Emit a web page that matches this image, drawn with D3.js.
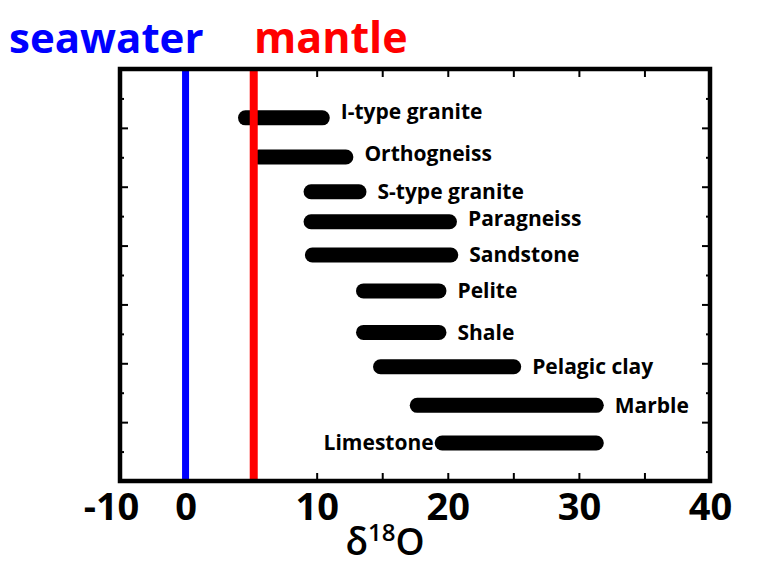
<!DOCTYPE html>
<html>
<head>
<meta charset="utf-8">
<script src="https://cdn.jsdelivr.net/npm/d3@7"></script>
<style>
  body { margin: 0; background: #fff; }
  text { font-family: "Open Sans", "Noto Sans", sans-serif; }
</style>
</head>
<body>
<script>
// rock types, top to bottom
var rocks = ["I-type granite", "Orthogneiss", "S-type granite", "Paragneiss", "Sandstone",
             "Pelite", "Shale", "Pelagic clay", "Marble", "Limestone"];
// d18O range of each rock type
var lows  = [4.0, 5.0, 9.0, 9.0, 9.1, 13.0, 13.0, 14.3, 17.1, 19.0];
var highs = [11.0, 12.8, 13.8, 20.7, 20.8, 19.9, 19.9, 25.6, 31.9, 31.9];
// vertical slot of each bar (axis runs 0..14)
var rows  = [12.34, 11.01, 9.83, 8.81, 7.68, 6.46, 5.05, 3.88, 2.57, 1.29];

var seawater = 0;
var mantle = 5.2;

var xTickValues = [-5, 0, 10, 20, 30, 40];
var xTickLabels = ["-10", "0", "10", "20", "30", "40"];

var svg = d3.select("body").append("svg")
    .attr("width", 768)
    .attr("height", 575);

var margin = {top: 69, right: 58, bottom: 94, left: 120};
var width = 768 - margin.left - margin.right;
var height = 575 - margin.top - margin.bottom;

var x = d3.scaleLinear().domain([-5, 40]).range([0, width]);
var y = d3.scaleLinear().domain([0, 14]).range([height, 0]);

var g = svg.append("g")
    .attr("transform", "translate(" + margin.left + "," + margin.top + ")");

// tick marks, all pointing inwards
var minorX = d3.range(5, 40, 5);
var yTicks = d3.range(1, 14);

function styleAxis(a) {
    a.select(".domain").remove();
    a.selectAll(".tick line").attr("stroke", "#000").attr("stroke-width", 2);
}

g.append("g").attr("transform", "translate(0," + height + ")")
    .call(d3.axisTop(x).tickValues(minorX).tickSize(8).tickFormat(""))
    .call(styleAxis);
g.append("g")
    .call(d3.axisBottom(x).tickValues(minorX).tickSize(8).tickFormat(""))
    .call(styleAxis);
g.append("g")
    .call(d3.axisRight(y).tickValues(yTicks).tickSize(0).tickFormat(""))
    .call(styleAxis)
    .selectAll(".tick line")
    .attr("x2", function(d) { return d % 2 === 0 ? 8 : 4; });
g.append("g").attr("transform", "translate(" + width + ",0)")
    .call(d3.axisLeft(y).tickValues(yTicks).tickSize(0).tickFormat(""))
    .call(styleAxis)
    .selectAll(".tick line")
    .attr("x2", function(d) { return d % 2 === 0 ? -8 : -4; });

// bottom tick labels
var xl = g.append("g").attr("transform", "translate(0," + height + ")")
    .call(d3.axisBottom(x).tickValues(xTickValues).tickSize(0).tickPadding(0)
        .tickFormat(function(d, i) { return xTickLabels[i]; }));
xl.select(".domain").remove();
xl.selectAll("text")
    .attr("y", 39)
    .attr("dy", 0)
    .attr("dx", function(d) { return d === -5 ? -9 : 0; })
    .attr("fill", "#000")
    .style("font-family", "'Open Sans', sans-serif")
    .style("font-size", "38px")
    .style("font-weight", 700);

// range bars
var barH = 15;
g.append("g")
  .selectAll("rect")
  .data(rocks)
  .join("rect")
    .attr("x", function(d, i) { return x(lows[i]); })
    .attr("width", function(d, i) { return x(highs[i]) - x(lows[i]); })
    .attr("y", function(d, i) { return y(rows[i]) - barH / 2; })
    .attr("height", barH)
    .attr("rx", barH / 2)
    .attr("fill", "#000");

// reference lines
g.append("line")
    .attr("x1", x(seawater)).attr("x2", x(seawater))
    .attr("y1", 0).attr("y2", height)
    .attr("stroke", "#0000ff").attr("stroke-width", 7);
g.append("line")
    .attr("x1", x(mantle)).attr("x2", x(mantle))
    .attr("y1", 0).attr("y2", height)
    .attr("stroke", "#ff0000").attr("stroke-width", 8);

// bar labels
g.append("g")
  .selectAll("text")
  .data(rocks)
  .join("text")
    .attr("x", function(d, i) { return d === "Limestone" ? x(lows[i]) - 1 : x(highs[i]) + 11; })
    .attr("y", function(d, i) {
        var off = d === "I-type granite" ? -6 : (d === "Orthogneiss" || d === "Paragneiss") ? -3 : 0;
        return y(rows[i]) + off;
    })
    .attr("dy", "0.35em")
    .attr("text-anchor", function(d) { return d === "Limestone" ? "end" : "start"; })
    .style("font-size", "21px")
    .style("font-weight", 700)
    .text(function(d) { return d; });

// frame
g.append("rect")
    .attr("width", width).attr("height", height)
    .attr("fill", "none").attr("stroke", "#000").attr("stroke-width", 4.5);

// titles
svg.append("text")
    .attr("x", 9).attr("y", 53)
    .attr("fill", "#0000ff")
    .style("font-size", "42px").style("font-weight", 700)
    .text("seawater");
svg.append("text")
    .attr("x", 254).attr("y", 53)
    .attr("fill", "#ff0000")
    .style("font-size", "43px").style("font-weight", 700)
    .text("mantle");

// axis title
var t = svg.append("text")
    .attr("x", 385).attr("y", 555)
    .attr("text-anchor", "middle")
    .style("font-size", "37px").style("font-weight", 600);
t.append("tspan").text("δ");
t.append("tspan").attr("dy", -14).style("font-size", "24px").text("18");
t.append("tspan").attr("dy", 14).text("O");
</script>
</body>
</html>
